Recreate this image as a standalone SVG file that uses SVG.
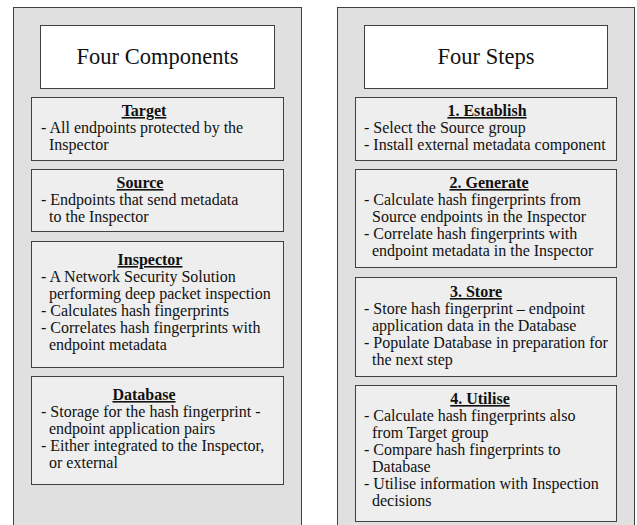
<svg xmlns="http://www.w3.org/2000/svg" width="637" height="525" viewBox="0 0 637 525">
<style>
.panel{fill:#e0e0e0;stroke:#404040;stroke-width:1}
.title{fill:#ffffff;stroke:#404040;stroke-width:1}
.box{fill:#eeeeee;stroke:#404040;stroke-width:1}
.t{font-size:22.5px;text-anchor:middle}
.h{font-size:16px;font-weight:bold;text-anchor:middle;text-decoration:underline}
.b{font-size:16px}
</style>
<rect width="637" height="525" fill="#ffffff"/>
<g id="panel-components">
<rect class="panel" x="13.5" y="7.5" width="288" height="530"/>
</g>
<g id="panel-steps">
<rect class="panel" x="337.5" y="7.5" width="297" height="530"/>
</g>
<g font-family="Liberation Serif, Times New Roman, DejaVu Serif, serif" fill="#111">
<g id="title-components">
<rect class="title" x="40.5" y="25.5" width="234" height="63"/>
<text class="t" x="157.5" y="64">Four Components</text>
</g>
<g id="target">
<rect class="box" x="31.5" y="97.5" width="252" height="63"/>
<text class="h" x="144" y="116">Target</text>
<text class="b" x="41" y="133">- All endpoints protected by the</text>
<text class="b" x="49" y="150">Inspector</text>
</g>
<g id="source">
<rect class="box" x="31.5" y="169.5" width="252" height="62"/>
<text class="h" x="140" y="188">Source</text>
<text class="b" x="41" y="205">- Endpoints that send metadata</text>
<text class="b" x="49" y="222">to the Inspector</text>
</g>
<g id="inspector">
<rect class="box" x="31.5" y="241.5" width="252" height="126"/>
<text class="h" x="150" y="265">Inspector</text>
<text class="b" x="41" y="282">- A Network Security Solution</text>
<text class="b" x="49" y="299">performing deep packet inspection</text>
<text class="b" x="41" y="316">- Calculates hash fingerprints</text>
<text class="b" x="41" y="333">- Correlates hash fingerprints with</text>
<text class="b" x="49" y="350">endpoint metadata</text>
</g>
<g id="database">
<rect class="box" x="31.5" y="376.5" width="252" height="108"/>
<text class="h" x="144" y="400">Database</text>
<text class="b" x="41" y="417">- Storage for the hash fingerprint -</text>
<text class="b" x="49" y="434">endpoint application pairs</text>
<text class="b" x="41" y="451">- Either integrated to the Inspector,</text>
<text class="b" x="49" y="468">or external</text>
</g>
<g id="title-steps">
<rect class="title" x="364.5" y="25.5" width="243" height="63"/>
<text class="t" x="486" y="64">Four Steps</text>
</g>
<g id="establish">
<rect class="box" x="355.5" y="97.5" width="261" height="63"/>
<text class="h" x="487" y="116">1. Establish</text>
<text class="b" x="364" y="133">- Select the Source group</text>
<text class="b" x="364" y="150">- Install external metadata component</text>
</g>
<g id="generate">
<rect class="box" x="355.5" y="169.5" width="261" height="98"/>
<text class="h" x="489" y="188">2. Generate</text>
<text class="b" x="364" y="205">- Calculate hash fingerprints from</text>
<text class="b" x="372" y="222">Source endpoints in the Inspector</text>
<text class="b" x="364" y="239">- Correlate hash fingerprints with</text>
<text class="b" x="372" y="256">endpoint metadata in the Inspector</text>
</g>
<g id="store">
<rect class="box" x="355.5" y="277.5" width="261" height="99"/>
<text class="h" x="476" y="297">3. Store</text>
<text class="b" x="364" y="314">- Store hash fingerprint – endpoint</text>
<text class="b" x="372" y="331">application data in the Database</text>
<text class="b" x="364" y="348">- Populate Database in preparation for</text>
<text class="b" x="372" y="365">the next step</text>
</g>
<g id="utilise">
<rect class="box" x="355.5" y="385.5" width="261" height="136"/>
<text class="h" x="480" y="404">4. Utilise</text>
<text class="b" x="364" y="421">- Calculate hash fingerprints also</text>
<text class="b" x="372" y="438">from Target group</text>
<text class="b" x="364" y="455">- Compare hash fingerprints to</text>
<text class="b" x="372" y="472">Database</text>
<text class="b" x="364" y="489">- Utilise information with Inspection</text>
<text class="b" x="372" y="506">decisions</text>
</g>
</g>
<g id="connectors"></g>
</svg>
